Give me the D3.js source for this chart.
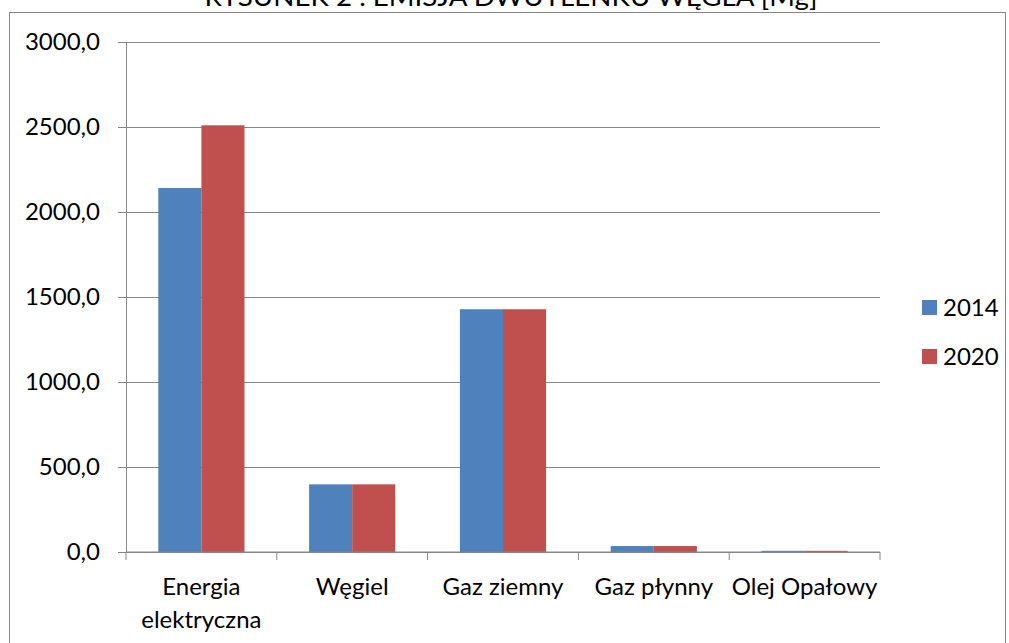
<!DOCTYPE html>
<html>
<head>
<meta charset="utf-8">
<script src="https://cdn.jsdelivr.net/npm/d3@7"></script>
<style>
  body { margin: 0; background: #fff; }
  svg { display: block; font-family: Lato, 'Open Sans', sans-serif; }
</style>
</head>
<body>
<div class="chart"></div>
<script>
// Emisja CO2 wg nośnika energii
var title = 'RYSUNEK 2 . EMISJA DWUTLENKU WĘGLA [Mg]'
var categories = ['Energia elektryczna', 'Węgiel', 'Gaz ziemny', 'Gaz płynny', 'Olej Opałowy']
var seriesNames = ['2014', '2020']
var values2014 = [2141, 398, 1428, 35, 7]
var values2020 = [2510, 398, 1428, 35, 7]
var yTicks = [0, 500, 1000, 1500, 2000, 2500, 3000]
var colors = ['#4F81BD', '#C0504D']

var svgWidth = 1009
var svgHeight = 643
var margin = { top: 42, left: 126, right: 129, bottom: 91 }
var width = svgWidth - margin.left - margin.right
var height = svgHeight - margin.top - margin.bottom

var svg = d3.select('.chart')
    .append('svg')
    .attr('width', svgWidth)
    .attr('height', svgHeight)

// outer frame
svg.append('rect')
    .attr('x', 9.5).attr('y', 12.5)
    .attr('width', 996).attr('height', 660)
    .attr('fill', 'none')
    .attr('stroke', '#868686')

svg.append('text')
    .attr('x', 511).attr('y', 6)
    .attr('text-anchor', 'middle')
    .attr('font-size', '25px')
    .attr('textLength', 613)
    .attr('lengthAdjust', 'spacingAndGlyphs')
    .text(title)

var chartGroup = svg.append('g')
    .attr('transform', `translate(${margin.left}, ${margin.top})`)

var y = d3.scaleLinear().domain([0, 3000]).range([height, 0])
var x0 = d3.scaleBand().domain(categories).range([0, width]).padding(0)
var x1 = d3.scaleBand().domain(seriesNames).range([0, x0.bandwidth()])
    .paddingInner(0).paddingOuter(0.75)

// gridlines
chartGroup.append('g')
    .attr('class', 'grid')
    .call(d3.axisLeft(y).tickValues(yTicks).tickSize(-width).tickFormat(''))
    .call(g => g.select('.domain').remove())
    .selectAll('line')
    .attr('stroke', '#868686')

// y axis
chartGroup.append('g')
    .call(d3.axisLeft(y).tickValues(yTicks).tickSize(8).tickPadding(18)
        .tickFormat(d => d3.format('.1f')(d).replace('.', ',')))
    .call(g => g.select('.domain').attr('stroke', '#868686'))
    .call(g => g.selectAll('line').attr('stroke', '#868686'))
    .call(g => g.selectAll('text')
        .attr('font-family', 'Lato, sans-serif')
        .attr('font-size', '24px')
        .attr('fill', '#000'))

// bars
var table = categories.map((c, i) => ({ cat: c, vals: [values2014[i], values2020[i]] }))

var groups = chartGroup.selectAll('.group')
    .data(table)
    .enter().append('g')
    .attr('transform', d => `translate(${x0(d.cat)}, 0)`)

groups.selectAll('rect')
    .data(d => d.vals.map((v, j) => ({ name: seriesNames[j], value: v, color: colors[j] })))
    .enter().append('rect')
    .attr('x', d => x1(d.name))
    .attr('width', x1.bandwidth())
    .attr('y', d => y(d.value))
    .attr('height', d => height - y(d.value))
    .attr('fill', d => d.color)

// x axis
var xAxis = chartGroup.append('g')
    .attr('transform', `translate(0, ${height})`)

xAxis.append('line')
    .attr('x1', 0).attr('x2', width)
    .attr('stroke', '#868686')

xAxis.selectAll('.tick-mark')
    .data(categories.map(c => x0(c)).concat([width]))
    .enter().append('line')
    .attr('x1', d => d).attr('x2', d => d)
    .attr('y1', 0).attr('y2', 8)
    .attr('stroke', '#868686')

var labels = xAxis.selectAll('.label')
    .data(categories)
    .enter().append('text')
    .attr('x', d => x0(d) + x0.bandwidth() / 2)
    .attr('y', 43)
    .attr('text-anchor', 'middle')
    .attr('font-size', '24px')
    .text(d => d)

// wrap long labels
labels.each(function(d) {
    var t = d3.select(this)
    if (this.getComputedTextLength() > x0.bandwidth()) {
        var words = d.split(' ')
        t.text(null)
        words.forEach((w, i) => {
            t.append('tspan')
                .attr('x', x0(d) + x0.bandwidth() / 2)
                .attr('dy', i === 0 ? 0 : 33)
                .text(w)
        })
    }
})

// legend
var legend = svg.append('g')
    .attr('transform', 'translate(922, 300)')

var item = legend.selectAll('g')
    .data(seriesNames)
    .enter().append('g')
    .attr('transform', (d, i) => `translate(0, ${i * 49})`)

item.append('rect')
    .attr('width', 15).attr('height', 15)
    .attr('fill', (d, i) => colors[i])

item.append('text')
    .attr('x', 21).attr('y', 16)
    .attr('font-size', '24px')
    .text(d => d)
</script>
</body>
</html>
